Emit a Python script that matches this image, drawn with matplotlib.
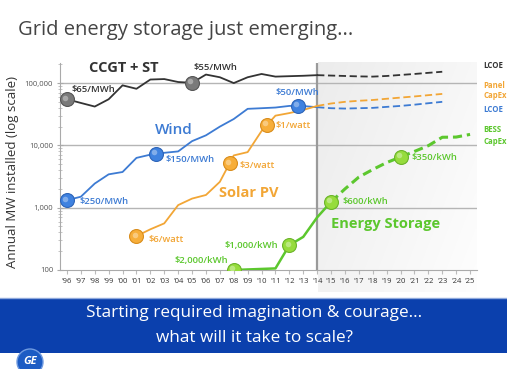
import numpy as np
import matplotlib
matplotlib.use("Agg")
import matplotlib.pyplot as plt
from matplotlib.patches import Rectangle, Circle

plt.rcParams['font.family'] = ['Open Sans', 'DejaVu Sans']

# ---------------- data ----------------
ccgt_years = [1996, 1997, 1998, 1999, 2000, 2001, 2002, 2003, 2004, 2005,
              2006, 2007, 2008, 2009, 2010, 2011, 2012, 2013, 2014]
ccgt_mw = [55000, 48000, 42000, 55000, 92000, 81000, 114000, 116000, 104000, 101000,
           137000, 124000, 100000, 124000, 140000, 127000, 129000, 131000, 134000]
ccgt_fc_years = [2014, 2015, 2016, 2017, 2018, 2019, 2020, 2021, 2022, 2023]
ccgt_fc_mw = [134000, 132000, 130000, 128000, 127000, 130000, 135000, 140000, 146000, 152000]

wind_years = [1996, 1997, 1998, 1999, 2000, 2001, 2002, 2003, 2004, 2005,
              2006, 2007, 2008, 2009, 2010, 2011, 2012, 2013, 2014]
wind_mw = [1320, 1500, 2440, 3430, 3740, 6300, 7100, 7600, 8000, 11700,
           14500, 20000, 26500, 38600, 39500, 40500, 43000, 42800, 41000]
wind_fc_years = [2014, 2015, 2016, 2017, 2018, 2019, 2020, 2021, 2022, 2023]
wind_fc_mw = [41000, 39500, 39000, 39500, 40000, 41500, 43000, 45000, 47500, 50000]

solar_years = [2001, 2002, 2003, 2004, 2005, 2006, 2007, 2008, 2009, 2010,
               2011, 2012, 2013, 2014]
solar_mw = [350, 450, 560, 1100, 1400, 1600, 2600, 6900, 7800, 17000,
            30000, 33000, 37000, 43000]
solar_fc_years = [2014, 2015, 2016, 2017, 2018, 2019, 2020, 2021, 2022, 2023]
solar_fc_mw = [43000, 47000, 50000, 52000, 53500, 56000, 58500, 61000, 64000, 67000]

storage_years = [2008, 2009, 2010, 2011, 2012, 2013, 2014, 2015]
storage_mw = [100, 102, 104, 106, 250, 340, 700, 1240]
storage_fc_years = [2015, 2016, 2017, 2018, 2019, 2020, 2021, 2022, 2023, 2024, 2025]
storage_fc_mw = [1240, 2000, 3100, 4100, 5300, 6500, 8000, 9900, 13500, 13600, 15000]

# milestone markers (year, label)
ccgt_marks = [(1996, "$65/MWh"), (2005, "$55/MWh")]
wind_marks = [(1996, "$250/MWh"), (2002.4, "$150/MWh"), (2012.6, "$50/MWh")]
solar_marks = [(2001, "$6/watt"), (2007.7, "$3/watt"), (2010.4, "$1/watt")]
storage_marks = [(2008, "$2,000/kWh"), (2012, "$1,000/kWh"), (2015, "$600/kWh")]
storage_fc_marks = [(2020, "$350/kWh")]

tick_years = list(range(1996, 2026))
tick_labels = ["'%02d" % (y % 100) for y in tick_years]
ytick_vals = [100, 1000, 10000, 100000]
ytick_labels = ["100", "1,000", "10,000", "100,000"]

# ---------------- figure ----------------
W, H = 507, 369
fig = plt.figure(figsize=(W / 100, H / 100), dpi=100)
fig.patch.set_facecolor("white")

def fx(px):
    return px / W

def fy(py):
    return 1 - py / H

# background layer (gradient shading)
bg = fig.add_axes([0, 0, 1, 1], zorder=0)
bg.axis("off")
gx = np.linspace(0, 1, 60)
gy = np.linspace(0, 1, 60)
GX, GY = np.meshgrid(gx, gy)
val = 0.925 + 0.045 * GX + 0.025 * GY
grad = np.dstack([val, val, val])
bg.imshow(grad, extent=[318, 477, 292, 62], aspect="auto", interpolation="bilinear")
bg.set_xlim(0, W)
bg.set_ylim(H, 0)

ax = fig.add_axes([fx(60), fy(270), fx(477 - 60), (270 - 63) / H], zorder=1)
ax.set_facecolor("none")
ax.set_yscale("log")
ax.set_xlim(1995.5, 2025.5)
ax.set_ylim(100, 2.1e5)

for v in [1000, 10000, 100000]:
    ax.axhline(v, color="#b5b5b5", lw=1.0, zorder=1)
ax.axvline(2014, color="#9a9a9a", lw=1.6, zorder=1)

for s in ["top", "right"]:
    ax.spines[s].set_visible(False)
ax.spines["left"].set_color("#aaaaaa")
ax.spines["bottom"].set_color("#aaaaaa")
ax.spines["left"].set_linewidth(0.8)
ax.spines["bottom"].set_linewidth(0.8)

ax.set_yticks(ytick_vals)
ax.set_yticklabels(ytick_labels)
ax.set_xticks(tick_years)
ax.set_xticklabels(tick_labels)
ax.tick_params(axis="y", which="major", labelsize=5.5, labelcolor="#555555",
               color="#aaaaaa", length=4, direction="inout", pad=3)
ax.tick_params(axis="y", which="minor", color="#bbbbbb", length=2.5, direction="inout")
ax.tick_params(axis="x", which="major", labelsize=5.5, labelcolor="#333333",
               color="#bbbbbb", length=3, direction="out", pad=3)

c_black = "#333333"
c_blue = "#3d7bd3"
c_orange = "#f2a636"
c_green = "#5cc72e"

ax.plot(ccgt_years, ccgt_mw, color=c_black, lw=1.3, zorder=3)
ax.plot(ccgt_fc_years, ccgt_fc_mw, color=c_black, lw=1.3, ls=(0, (4, 2)), zorder=3)
ax.plot(wind_years, wind_mw, color=c_blue, lw=1.3, zorder=3)
ax.plot(wind_fc_years, wind_fc_mw, color=c_blue, lw=1.3, ls=(0, (4, 2)), zorder=3)
ax.plot(solar_years, solar_mw, color=c_orange, lw=1.3, zorder=3)
ax.plot(solar_fc_years, solar_fc_mw, color=c_orange, lw=1.3, ls=(0, (4, 2)), zorder=3)
ax.plot(storage_years, storage_mw, color=c_green, lw=1.8, zorder=3)
ax.plot(storage_fc_years, storage_fc_mw, color=c_green, lw=2.2, ls=(0, (3, 1.6)), zorder=3)

def on_line(xs, ys, x):
    return 10 ** np.interp(x, xs, np.log10(ys))

def draw_marks(marks, xs, ys, face, edge, tcolor, offsets):
    for (yr, lab), (dx, dy, ha) in zip(marks, offsets):
        yv = on_line(xs, ys, yr)
        ax.plot([yr], [yv], "o", ms=10, mfc=face, mec=edge, mew=0.8, zorder=5)
        ax.plot([yr - 0.12], [yv * 1.06], "o", ms=4, mfc="white", mec="none",
                alpha=0.35, zorder=6)
        ax.annotate(lab, (yr, yv), xytext=(dx, dy), textcoords="offset pixels",
                    ha=ha, va="center", fontsize=6.8, color=tcolor,
                    fontweight="semibold", zorder=7)

draw_marks(ccgt_marks, ccgt_years, ccgt_mw, "#7a7a7a", "#555555", "#333333",
           [(5, 10, "left"), (1, 15, "left")])
draw_marks(wind_marks, wind_years, wind_mw, "#3f82e0", "#2d64b8", c_blue,
           [(13, -1, "left"), (10, -6, "left"), (0, 13, "center")])
draw_marks(solar_marks, solar_years, solar_mw, "#f7ae3a", "#d98d1c", c_orange,
           [(12, -3, "left"), (10, -2, "left"), (8, -1, "left")])
draw_marks(storage_marks, storage_years, storage_mw, "#96dc3c", "#6cb42a", c_green,
           [(-6, 9, "right"), (-11, 0, "right"), (11, 0, "left")])
draw_marks(storage_fc_marks, storage_fc_years, storage_fc_mw, "#96dc3c", "#6cb42a",
           c_green, [(11, 0, "left")])

# ---------------- overlay (pixel coords) ----------------
ov = fig.add_axes([0, 0, 1, 1], zorder=2)
ov.set_xlim(0, W)
ov.set_ylim(H, 0)
ov.axis("off")

ov.text(18, 35, "Grid energy storage just emerging...", fontsize=14.5,
        color="#444444", va="baseline", ha="left")

ov.text(13, 172, "Annual MW installed (log scale)", fontsize=9.5, color="#333333",
        rotation=90, ha="center", va="center")

ov.text(124, 68, "CCGT + ST", fontsize=10.5, fontweight="bold", color="#333333",
        ha="center", va="center")
ov.text(174, 130, "Wind", fontsize=11, fontweight="semibold", color=c_blue,
        ha="center", va="center")
ov.text(249, 193, "Solar PV", fontsize=10.5, fontweight="bold", color=c_orange,
        ha="center", va="center")
ov.text(386, 224, "Energy Storage", fontsize=10.5, fontweight="bold", color=c_green,
        ha="center", va="center")

rl = [(66, "LCOE", "#333333"), (85, "Panel", c_orange), (96, "CapEx", c_orange),
      (109, "LCOE", c_blue), (130, "BESS", c_green), (141, "CapEx", c_green)]
for yy, t, c in rl:
    ov.text(483, yy, t, fontsize=5.6, fontweight="bold", color=c, ha="left",
            va="center")

# banner
ov.add_patch(Rectangle((0, 298), W, 55, facecolor="#0b40ad", edgecolor="none", zorder=1))
ov.plot([0, W], [298, 298], color="#8fa9dc", lw=1.0, zorder=2)
ov.text(W / 2 + 1, 313, "Starting required imagination & courage...", fontsize=12.3,
        color="white", ha="center", va="center", zorder=3)
ov.text(W / 2 + 1, 338, "what will it take to scale?", fontsize=12.3,
        color="white", ha="center", va="center", zorder=3)

# GE logo
ov.add_patch(Circle((30, 362), 13, facecolor="#1c5cc4", edgecolor="#6f9ae0", lw=1.0,
                    zorder=1, clip_on=False))
ov.text(30, 361, "GE", fontsize=8, fontstyle="italic", fontweight="bold",
        color="white", ha="center", va="center", zorder=2)

fig.savefig("out.png", dpi=100)
